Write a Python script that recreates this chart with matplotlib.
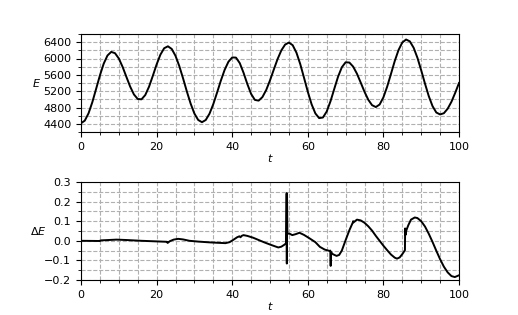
import matplotlib
matplotlib.use("Agg")
import matplotlib.pyplot as plt
from matplotlib.ticker import MultipleLocator

t_E = list(range(0, 101))
E = [4415, 4478, 4659, 4931, 5256, 5585, 5872, 6073, 6162, 6130,
     6001, 5796, 5552, 5313, 5120, 5009, 5000, 5105, 5310, 5575,
     5853, 6093, 6251, 6299, 6234, 6066, 5816, 5514, 5194, 4896,
     4652, 4495, 4440, 4494, 4649, 4883, 5166, 5459, 5722, 5920,
     6026, 6022, 5887, 5651, 5376, 5133, 4986, 4968, 5056, 5229,
     5464, 5728, 5985, 6199, 6341, 6390, 6326, 6142, 5864, 5529,
     5186, 4880, 4655, 4540, 4555, 4701, 4951, 5255, 5553, 5785,
     5907, 5901, 5801, 5628, 5410, 5185, 4990, 4857, 4811, 4873,
     5048, 5311, 5622, 5937, 6207, 6392, 6465, 6419, 6263, 6018,
     5711, 5385, 5079, 4833, 4677, 4630, 4660, 4770, 4940, 5160,
     5400]

# Energy error dE(t) (repeated t gives the jumps)
t_dE = [0, 5, 5.1, 9.4, 12, 16, 20, 22.6, 22.8, 22.9, 23.5, 24.5, 25.7,
        27, 28.7, 31, 34, 36, 38.2, 39.3, 40.3, 41.3, 41.9, 42.2, 42.5,
        43.0, 44, 45.5, 47, 48.5, 50, 51.3, 52.2, 53.0, 53.8, 54.3,
        54.4, 54.45, 54.5, 54.6, 55.2, 55.9, 56.8, 57.8, 59, 60.5, 62,
        63.2, 64.5, 65.8, 65.95, 66.05, 66.15, 66.6, 67.6, 68.3, 69, 70,
        71, 71.9, 72.0, 72.1, 73.0, 74, 75, 76, 77, 78, 79, 80, 81, 82,
        83, 83.6, 84.3, 85, 85.7, 85.75, 85.85, 86.1, 86.6, 87.3, 88.3,
        89, 90, 91, 92, 93, 94, 95, 96, 97, 98, 98.9, 100]
dE = [0.0, -0.001, 0.002, 0.006, 0.004, 0.0, -0.003, -0.005, -0.006,
      -0.011, -0.002, 0.006, 0.010, 0.007, 0.0, -0.004, -0.008, -0.010,
      -0.012, -0.007, 0.005, 0.018, 0.023, 0.018, 0.025, 0.029, 0.025,
      0.016, 0.004, -0.008, -0.019, -0.028, -0.034, -0.030, -0.020,
      -0.012, 0.242, -0.116, 0.242, 0.037, 0.036, 0.029, 0.034, 0.041,
      0.030, 0.012, -0.007, -0.031, -0.045, -0.052, -0.050, -0.128,
      -0.058, -0.068, -0.077, -0.072, -0.050, 0.003, 0.054, 0.093,
      0.100, 0.094, 0.108, 0.104, 0.092, 0.074, 0.052, 0.025, 0.0,
      -0.025, -0.048, -0.070, -0.086, -0.091, -0.085, -0.068, -0.048,
      0.063, 0.030, 0.055, 0.080, 0.108, 0.119, 0.116, 0.100, 0.073,
      0.036, -0.006, -0.051, -0.094, -0.132, -0.161, -0.180, -0.185,
      -0.176]

fig = plt.figure(figsize=(5.18, 3.15), dpi=100)
ax1 = fig.add_axes([81/518, 1 - 132/315, 378/518, 98/315])
ax2 = fig.add_axes([81/518, 1 - 280/315, 378/518, 98/315])

fs = 8
ax1.plot(t_E, E, color="black", lw=1.4)
ax1.set_xlim(0, 100)
ax1.set_ylim(4200, 6600)
ax1.xaxis.set_major_locator(MultipleLocator(20))
ax1.xaxis.set_minor_locator(MultipleLocator(5))
ax1.yaxis.set_major_locator(MultipleLocator(400))
ax1.yaxis.set_minor_locator(MultipleLocator(200))
ax1.set_ylabel("$E$", rotation=0, fontsize=fs, labelpad=5, va="center")
ax1.set_xlabel("$t$", fontsize=fs, labelpad=0)

ax2.plot(t_dE, dE, color="black", lw=1.4)
ax2.set_xlim(0, 100)
ax2.set_ylim(-0.2, 0.3)
ax2.xaxis.set_major_locator(MultipleLocator(20))
ax2.xaxis.set_minor_locator(MultipleLocator(5))
ax2.yaxis.set_major_locator(MultipleLocator(0.1))
ax2.yaxis.set_minor_locator(MultipleLocator(0.05))
ax2.set_ylabel("$\\Delta E$", rotation=0, fontsize=fs, labelpad=4, va="center")
ax2.set_xlabel("$t$", fontsize=fs, labelpad=0)

for ax in (ax1, ax2):
    ax.grid(True, which="both", linestyle="--", color="#b0b0b0", lw=0.8)
    ax.tick_params(which="both", labelsize=fs)
    ax.tick_params(which="minor", length=2)
    ax.set_axisbelow(True)

fig.savefig("out.png", dpi=100)
